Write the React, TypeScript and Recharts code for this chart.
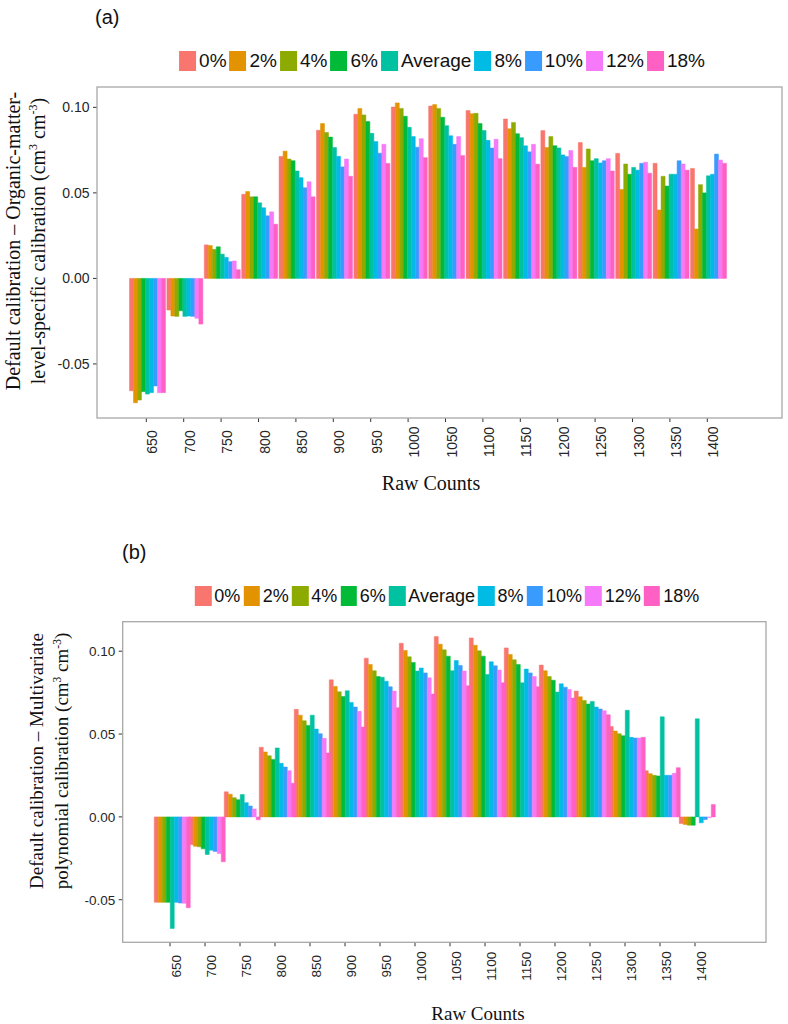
import React from 'react'
import { BarChart, Bar, XAxis, YAxis } from 'recharts'

const RAW_COUNTS = ['650', '700', '750', '800', '850', '900', '950', '1000', '1050', '1100', '1150', '1200', '1250', '1300', '1350', '1400']
const SERIES = ['0%', '2%', '4%', '6%', 'Average', '8%', '10%', '12%', '18%']
const COLORS = ['#F8766D', '#E39300', '#8DAA00', '#00BA38', '#00C1A0', '#00BBE3', '#3A9BFF', '#F579F8', '#FF60C3']
const Y_TICKS = [-0.05, 0, 0.05, 0.1]

// (a) default minus organic-matter-level-specific calibration
const A_0 = [-0.0657, -0.0185, 0.0196, 0.0492, 0.0713, 0.0866, 0.0960, 0.1002, 0.1008, 0.0981, 0.0932, 0.0864, 0.0794, 0.0731, 0.0673, 0.0643]
const A_2 = [-0.0727, -0.0220, 0.0192, 0.0508, 0.0744, 0.0905, 0.0993, 0.1026, 0.1016, 0.0963, 0.0875, 0.0765, 0.0649, 0.0520, 0.0400, 0.0289]
const A_4 = [-0.0711, -0.0222, 0.0170, 0.0477, 0.0698, 0.0853, 0.0956, 0.0994, 0.0994, 0.0965, 0.0912, 0.0829, 0.0757, 0.0669, 0.0597, 0.0548]
const A_6 = [-0.0662, -0.0189, 0.0185, 0.0477, 0.0688, 0.0826, 0.0917, 0.0948, 0.0942, 0.0905, 0.0846, 0.0776, 0.0688, 0.0609, 0.0540, 0.0500]
const A_AVG = [-0.0676, -0.0222, 0.0142, 0.0442, 0.0628, 0.0765, 0.0848, 0.0883, 0.0893, 0.0864, 0.0823, 0.0763, 0.0700, 0.0649, 0.0609, 0.0600]
const A_8 = [-0.0668, -0.0220, 0.0123, 0.0413, 0.0589, 0.0714, 0.0800, 0.0829, 0.0834, 0.0807, 0.0775, 0.0722, 0.0675, 0.0633, 0.0609, 0.0609]
const A_10 = [-0.0629, -0.0222, 0.0098, 0.0366, 0.0530, 0.0652, 0.0732, 0.0767, 0.0784, 0.0762, 0.0740, 0.0712, 0.0688, 0.0673, 0.0688, 0.0727]
const A_12 = [-0.0668, -0.0233, 0.0102, 0.0389, 0.0565, 0.0698, 0.0784, 0.0817, 0.0829, 0.0813, 0.0784, 0.0748, 0.0700, 0.0679, 0.0669, 0.0692]
const A_18 = [-0.0668, -0.0267, 0.0051, 0.0317, 0.0477, 0.0597, 0.0672, 0.0706, 0.0718, 0.0700, 0.0668, 0.0649, 0.0628, 0.0615, 0.0633, 0.0673]

// (b) default minus multivariate polynomial calibration
const B_0 = [-0.0516, -0.0167, 0.0151, 0.0420, 0.0649, 0.0827, 0.0958, 0.1048, 0.1088, 0.1080, 0.1020, 0.0916, 0.0759, 0.0546, 0.0279, -0.0040]
const B_2 = [-0.0516, -0.0177, 0.0137, 0.0392, 0.0614, 0.0787, 0.0920, 0.1004, 0.1042, 0.1036, 0.0980, 0.0882, 0.0725, 0.0518, 0.0261, -0.0046]
const B_4 = [-0.0516, -0.0181, 0.0116, 0.0369, 0.0580, 0.0755, 0.0882, 0.0966, 0.1008, 0.1002, 0.0948, 0.0847, 0.0703, 0.0502, 0.0251, -0.0050]
const B_6 = [-0.0516, -0.0193, 0.0104, 0.0347, 0.0552, 0.0727, 0.0847, 0.0932, 0.0970, 0.0970, 0.0920, 0.0825, 0.0681, 0.0490, 0.0247, -0.0050]
const B_AVG = [-0.0673, -0.0227, 0.0135, 0.0416, 0.0614, 0.0761, 0.0843, 0.0880, 0.0882, 0.0859, 0.0809, 0.0753, 0.0697, 0.0643, 0.0604, 0.0592]
const B_8 = [-0.0516, -0.0201, 0.0086, 0.0323, 0.0530, 0.0691, 0.0819, 0.0898, 0.0944, 0.0936, 0.0892, 0.0803, 0.0663, 0.0480, 0.0251, -0.0036]
const B_10 = [-0.0520, -0.0209, 0.0066, 0.0301, 0.0502, 0.0663, 0.0785, 0.0869, 0.0914, 0.0912, 0.0869, 0.0783, 0.0651, 0.0476, 0.0251, -0.0016]
const B_12 = [-0.0522, -0.0221, 0.0048, 0.0279, 0.0474, 0.0637, 0.0759, 0.0839, 0.0880, 0.0886, 0.0847, 0.0769, 0.0641, 0.0476, 0.0263, -0.0004]
const B_18 = [-0.0548, -0.0271, -0.0018, 0.0203, 0.0386, 0.0542, 0.0659, 0.0741, 0.0791, 0.0809, 0.0785, 0.0717, 0.0616, 0.0480, 0.0297, 0.0074]

const buildRows = (cols: number[][]) =>
  RAW_COUNTS.map((raw, i) => {
    const row: Record<string, string | number> = { raw }
    SERIES.forEach((s, j) => { row[s] = cols[j][i] })
    return row
  })

const DATA_A = buildRows([A_0, A_2, A_4, A_6, A_AVG, A_8, A_10, A_12, A_18])
const DATA_B = buildRows([B_0, B_2, B_4, B_6, B_AVG, B_8, B_10, B_12, B_18])

const SANS = '"Liberation Sans", Arial, sans-serif'
const SERIF = '"Liberation Serif", "Times New Roman", serif'
const INK = '#262626'

function Legend({ top, cx, keyW, fontSize }: { top: number; cx: number; keyW: number; fontSize: number }) {
  return (
    <div style={{
      position: 'absolute', top, left: cx, transform: 'translateX(-50%)',
      display: 'flex', whiteSpace: 'nowrap', fontFamily: SANS, fontSize, color: '#111', lineHeight: '20px',
    }}>
      {SERIES.map((s, i) => (
        <span key={s} style={{ display: 'inline-flex', alignItems: 'center', marginRight: i < SERIES.length - 1 ? 3 : 0 }}>
          <span style={{ width: keyW, height: 20, background: COLORS[i], marginRight: 3, display: 'inline-block' }} />
          <span>{s}</span>
        </span>
      ))}
    </div>
  )
}

interface PanelProps {
  data: Record<string, string | number>[]
  top: number
  height: number
  plot: { left: number; right: number; top: number; bottom: number }
  domain: [number, number]
  pad: { left: number; right: number }
  tickFont: number
}

function Panel({ data, top, height, plot, domain, pad, tickFont }: PanelProps) {
  const xAxisH = 60
  const xTick = (props: any) => {
    const { x, payload } = props
    const cy = plot.bottom - top + 24
    return (
      <text transform={`translate(${x + 11},${cy}) rotate(-90)`} textAnchor="middle"
        fontFamily={SANS} fontSize={tickFont} fill={INK}>{payload.value}</text>
    )
  }
  return (
    <div style={{ position: 'absolute', left: 0, top }}>
      <BarChart width={788} height={height} data={data}
        margin={{ top: plot.top - top, right: 788 - plot.right, bottom: top + height - plot.bottom - xAxisH, left: 0 }}
        barCategoryGap="5%" barGap={0}>
        <XAxis dataKey="raw" interval={0} height={xAxisH} padding={pad} axisLine={false}
          tickSize={4} tickLine={{ stroke: '#333' }} tick={xTick} />
        <YAxis type="number" domain={domain} allowDataOverflow ticks={Y_TICKS} width={plot.left}
          axisLine={false} tickSize={4} tickMargin={3.5} tickLine={{ stroke: '#333' }}
          tickFormatter={(v: number) => v.toFixed(2)}
          tick={{ fontFamily: SANS, fontSize: tickFont, fill: INK }} />
        {SERIES.map((s, i) => (
          <Bar key={s} dataKey={s} fill={COLORS[i]} stroke={COLORS[i]} strokeWidth={0.5} isAnimationActive={false} />
        ))}
      </BarChart>
    </div>
  )
}

const PLOT_A = { left: 97, right: 782, top: 87, bottom: 418 }
const PLOT_B = { left: 122.7, right: 766, top: 621.7, bottom: 942.3 }

export default function App() {
  return (
    <div style={{ position: 'absolute', left: 0, top: 0, width: 788, height: 1024, background: '#fff' }}>
      <Panel data={DATA_A} top={0} height={520} plot={PLOT_A} domain={[-0.0816, 0.1119]}
        pad={{ left: 30.6, right: 56 }} tickFont={14} />
      <Panel data={DATA_B} top={520} height={504} plot={PLOT_B} domain={[-0.0757, 0.1178]}
        pad={{ left: 29.8, right: 53.5 }} tickFont={13.5} />

      <Legend top={51} cx={442} keyW={17} fontSize={19} />
      <Legend top={586} cx={447} keyW={16.5} fontSize={18} />

      <svg width={788} height={1024} style={{ position: 'absolute', left: 0, top: 0, pointerEvents: 'none' }}>
        <rect x={PLOT_A.left} y={PLOT_A.top} width={PLOT_A.right - PLOT_A.left} height={PLOT_A.bottom - PLOT_A.top}
          fill="none" stroke="#a8a8a8" strokeWidth={1.3} />
        <rect x={PLOT_B.left} y={PLOT_B.top} width={PLOT_B.right - PLOT_B.left} height={PLOT_B.bottom - PLOT_B.top}
          fill="none" stroke="#a8a8a8" strokeWidth={1.3} />

        <text x={95} y={24} fontFamily={SANS} fontSize={20} fill="#111">(a)</text>
        <text x={122} y={559} fontFamily={SANS} fontSize={20} fill="#111">(b)</text>

        <g fontFamily={SERIF} fontSize={20} fill="#111" textAnchor="middle">
          <text transform="translate(20,241) rotate(-90)">Default calibration – Organic-matter-</text>
          <text transform="translate(45,241) rotate(-90)">
            level-specific calibration (cm<tspan fontSize={12} dy={-8}>3</tspan>
            <tspan dy={8}> cm</tspan><tspan fontSize={12} dy={-8}>-3</tspan><tspan dy={8}>)</tspan>
          </text>
          <text x={431} y={490}>Raw Counts</text>
        </g>
        <g fontFamily={SERIF} fontSize={19} fill="#111" textAnchor="middle">
          <text transform="translate(43,761) rotate(-90)">Default calibration – Multivariate</text>
          <text transform="translate(68,761) rotate(-90)">
            polynomial calibration (cm<tspan fontSize={11.5} dy={-7.5}>3</tspan>
            <tspan dy={7.5}> cm</tspan><tspan fontSize={11.5} dy={-7.5}>-3</tspan><tspan dy={7.5}>)</tspan>
          </text>
          <text x={478} y={1020}>Raw Counts</text>
        </g>
      </svg>
    </div>
  )
}
